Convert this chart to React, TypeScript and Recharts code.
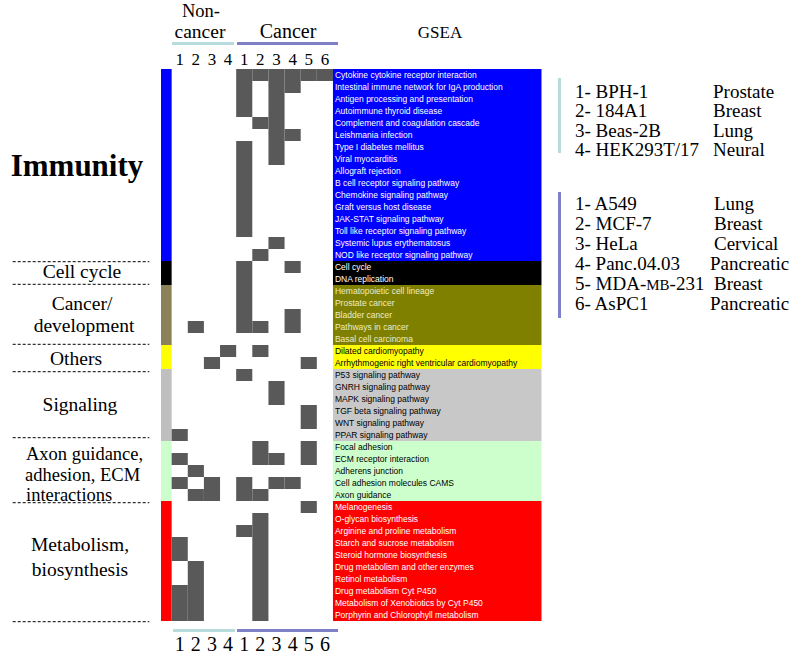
import React from 'react';
import { BarChart, Bar, Cell, XAxis, YAxis } from 'recharts';

// Column labels (4 non-cancer + 6 cancer cell lines)
const COLUMN_LABELS = ['1', '2', '3', '4', '1', '2', '3', '4', '5', '6'];

// GSEA pathways, top to bottom
const PATHWAYS = [
  'Cytokine cytokine receptor interaction',
  'Intestinal immune network for IgA production',
  'Antigen processing and presentation',
  'Autoimmune thyroid disease',
  'Complement and coagulation cascade',
  'Leishmania infection',
  'Type I diabetes mellitus',
  'Viral myocarditis',
  'Allograft rejection',
  'B cell receptor signaling pathway',
  'Chemokine signaling pathway',
  'Graft versus host disease',
  'JAK-STAT signaling pathway',
  'Toll like receptor signaling pathway',
  'Systemic lupus erythematosus',
  'NOD like receptor signaling pathway',
  'Cell cycle',
  'DNA replication',
  'Hematopoietic cell lineage',
  'Prostate cancer',
  'Bladder cancer',
  'Pathways in cancer',
  'Basal cell carcinoma',
  'Dilated cardiomyopathy',
  'Arrhythmogenic right ventricular cardiomyopathy',
  'P53 signaling pathway',
  'GNRH signaling pathway',
  'MAPK signaling pathway',
  'TGF beta signaling pathway',
  'WNT signaling pathway',
  'PPAR signaling pathway',
  'Focal adhesion',
  'ECM receptor interaction',
  'Adherens junction',
  'Cell adhesion molecules CAMS',
  'Axon guidance',
  'Melanogenesis',
  'O-glycan biosynthesis',
  'Arginine and proline metabolism',
  'Starch and sucrose metabolism',
  'Steroid hormone biosynthesis',
  'Drug metabolism and other enzymes',
  'Retinol metabolism',
  'Drug metabolism Cyt P450',
  'Metabolism of Xenobiotics by Cyt P450',
  'Porphyrin and Chlorophyll metabolism',
];

// enriched (1) / not enriched (0) per pathway, one char per column
const HITS = [
  '0000111111', '0000101100', '0000101000', '0000101000', '0000011000',
  '0000001100', '0000101000', '0000101000', '0000100000', '0000100000',
  '0000100000', '0000100000', '0000100000', '0000100000', '0000001000',
  '0000010000', '0000100100', '0000100000', '0000100000', '0000100000',
  '0000100100', '0100110100', '0000000000', '0001010000', '0010000010',
  '0000100000', '0000001000', '0000001000', '0000000010', '0000000010',
  '1000000000', '0000010010', '1000011010', '0100000000', '1010101100',
  '0110110000', '0000000010', '0000010000', '0000110000', '1000010000',
  '1000010000', '0100010000', '0100010000', '1100010000', '1100010000',
  '1100010000',
];

// number of pathways in each functional group
const GROUP_NAMES = ['Immunity', 'Cell cycle', 'Cancer/development', 'Others', 'Signaling', 'Axon guidance, adhesion, ECM interactions', 'Metabolism, biosynthesis'];
const GROUP_SIZES = [16, 2, 5, 2, 6, 5, 10];

const NON_CANCER_LINES = [
  ['1- BPH-1', 'Prostate'],
  ['2- 184A1', 'Breast'],
  ['3- Beas-2B', 'Lung'],
  ['4- HEK293T/17', 'Neural'],
];
const CANCER_LINES = [
  ['1- A549', 'Lung'],
  ['2- MCF-7', 'Breast'],
  ['3- HeLa', 'Cervical'],
  ['4- Panc.04.03', 'Pancreatic'],
  ['5- MDA-MB-231', 'Breast'],
  ['6- AsPC1', 'Pancreatic'],
];

// styles
const GROUP_STYLES = [
  { bar: '#0000ff', box: '#0000ff', text: '#ffffff' },
  { bar: '#000000', box: '#000000', text: '#ffffff' },
  { bar: '#8c8259', box: '#808000', text: '#ececc8' },
  { bar: '#ffff00', box: '#ffff00', text: '#000000' },
  { bar: '#bfbfbf', box: '#c8c8c8', text: '#000000' },
  { bar: '#ccffcc', box: '#ccffcc', text: '#000000' },
  { bar: '#ff0000', box: '#ff0000', text: '#ffffff' },
];
const HIT_COLOR = '#595959';
const TEAL = '#b8dcdc';
const PURPLE = '#8080c8';
const SERIF = '"Liberation Serif", "Times New Roman", serif';
const SANS = '"Liberation Sans", Arial, sans-serif';

// layout
const W = 798;
const H = 654;
const PLOT_LEFT = 161;
const PLOT_RIGHT = 541.7;
const PLOT_TOP = 69;
const ROW_H = 12;
const AXIS_H = 20;
const SIDE_W = 0.66;
const GSEA_W = 12.94;
const TOTAL = SIDE_W + COLUMN_LABELS.length + GSEA_W;
const COL_CENTERS = COLUMN_LABELS.map((_, i) => SIDE_W + i + 0.5);

const groupOf: number[] = [];
GROUP_SIZES.forEach((n, g) => {
  for (let k = 0; k < n; k++) groupOf.push(g);
});

const chartData = PATHWAYS.map((name, i) => {
  const row: any = { name, group: groupOf[i], side: SIDE_W, gsea: GSEA_W };
  COLUMN_LABELS.forEach((_, c) => {
    row[`c${c}`] = 1;
  });
  return row;
});

const colLabel = (v: number) => COLUMN_LABELS[Math.round(v - SIDE_W - 0.5)] ?? '';

function GseaShape(props: any) {
  const { x, y, width, height, payload } = props;
  const st = GROUP_STYLES[payload.group];
  return (
    <g>
      <rect x={x} y={y} width={width} height={height} fill={st.box} />
      <text x={x + 2} y={y + height / 2 + 3} fontSize={8.5} fontFamily={SANS} fill={st.text}>
        {payload.name}
      </text>
    </g>
  );
}

export default function App() {
  const plotH = PATHWAYS.length * ROW_H;
  const margin = {
    top: PLOT_TOP - AXIS_H,
    bottom: H - (PLOT_TOP + plotH) - AXIS_H,
    left: PLOT_LEFT,
    right: W - PLOT_RIGHT,
  };

  const dashY = [261.7, 284.3, 344.3, 371.7, 437.7, 502.7, 621.7];

  return (
    <div style={{ position: 'absolute', left: 0, top: 0, width: W, height: H, background: '#fff' }}>
      <BarChart
        width={W}
        height={H}
        data={chartData}
        layout="vertical"
        margin={margin}
        barCategoryGap={0}
        barGap={0}
      >
        <XAxis
          xAxisId="top"
          orientation="top"
          type="number"
          domain={[0, TOTAL]}
          allowDataOverflow
          ticks={COL_CENTERS}
          interval={0}
          tickFormatter={colLabel}
          axisLine={false}
          tickLine={false}
          tickSize={0}
          tickMargin={4}
          height={AXIS_H}
          tick={{ fill: '#000', fontSize: 17, fontFamily: SERIF }}
        />
        <XAxis
          xAxisId="bottom"
          orientation="bottom"
          type="number"
          domain={[0, TOTAL]}
          allowDataOverflow
          ticks={COL_CENTERS}
          interval={0}
          tickFormatter={colLabel}
          axisLine={false}
          tickLine={false}
          tickSize={0}
          tickMargin={16}
          height={AXIS_H}
          tick={{ fill: '#000', fontSize: 20, fontFamily: SERIF }}
        />
        <YAxis type="category" dataKey="name" hide />
        <Bar dataKey="side" stackId="s" xAxisId="top" isAnimationActive={false}>
          {chartData.map((d, i) => (
            <Cell key={`side-${i}`} fill={GROUP_STYLES[d.group].bar} />
          ))}
        </Bar>
        {COLUMN_LABELS.map((_, c) => (
          <Bar key={`c${c}`} dataKey={`c${c}`} stackId="s" xAxisId="top" isAnimationActive={false}>
            {chartData.map((d, i) => (
              <Cell key={`cell-${c}-${i}`} fill={HITS[i][c] === '1' ? HIT_COLOR : 'transparent'} />
            ))}
          </Bar>
        ))}
        <Bar dataKey="gsea" stackId="s" xAxisId="top" isAnimationActive={false} shape={GseaShape} />
      </BarChart>

      <svg width={W} height={H} style={{ position: 'absolute', left: 0, top: 0, pointerEvents: 'none' }}>
        {/* header */}
        <g fontFamily={SERIF} fill="#000" textAnchor="middle">
          <text x={201} y={17} fontSize={18.5}>Non-</text>
          <text x={200} y={38} fontSize={19.5}>cancer</text>
          <text x={288} y={38} fontSize={20}>Cancer</text>
          <text x={440} y={38} fontSize={17}>GSEA</text>
        </g>
        <rect x={172} y={42} width={62} height={3} fill={TEAL} />
        <rect x={237} y={42} width={101} height={3} fill={PURPLE} />
        <rect x={173} y={629} width={62} height={3} fill={TEAL} />
        <rect x={237} y={629} width={101} height={3} fill={PURPLE} />

        {/* group labels */}
        <g fontFamily={SERIF} fill="#000" fontSize={19.5} textAnchor="middle">
          <text x={77} y={176} fontSize={31} fontWeight="bold">{GROUP_NAMES[0]}</text>
          <text x={82} y={278}>Cell cycle</text>
          <text x={82} y={310}>Cancer/</text>
          <text x={84} y={332}>development</text>
          <text x={76} y={365}>Others</text>
          <text x={80} y={411}>Signaling</text>
          <text x={26} y={460} textAnchor="start" fontSize={18.5}>Axon guidance,</text>
          <text x={25} y={481} textAnchor="start" fontSize={18.5}>adhesion, ECM</text>
          <text x={26} y={501} textAnchor="start" fontSize={18.5}>interactions</text>
          <text x={80} y={551}>Metabolism,</text>
          <text x={80} y={576}>biosynthesis</text>
        </g>
        {dashY.map((y, i) => (
          <line key={`dash-${i}`} x1={12.7} x2={149.3} y1={y} y2={y} stroke="#000" strokeWidth={1} strokeDasharray="3 2" />
        ))}

        {/* cell line legend */}
        <rect x={558} y={78} width={3} height={75} fill={TEAL} />
        <rect x={558} y={192} width={3} height={126} fill={PURPLE} />
        <g fontFamily={SERIF} fill="#000" fontSize={19}>
          {NON_CANCER_LINES.map(([line, tissue], i) => (
            <g key={`nc-${i}`}>
              <text x={575} y={98 + i * 19.4}>{line}</text>
              <text x={713} y={98 + i * 19.4}>{tissue}</text>
            </g>
          ))}
          {CANCER_LINES.map(([line, tissue], i) => (
            <g key={`ca-${i}`}>
              {line.includes('MB') ? (
                <text x={575} y={210 + i * 20}>
                  {line.split('MB')[0]}
                  <tspan fontSize={15}>MB</tspan>
                  {line.split('MB')[1]}
                </text>
              ) : (
                <text x={575} y={210 + i * 20}>{line}</text>
              )}
              <text x={tissue === 'Pancreatic' ? 710 : 714} y={210 + i * 20}>{tissue}</text>
            </g>
          ))}
        </g>
      </svg>
    </div>
  );
}
